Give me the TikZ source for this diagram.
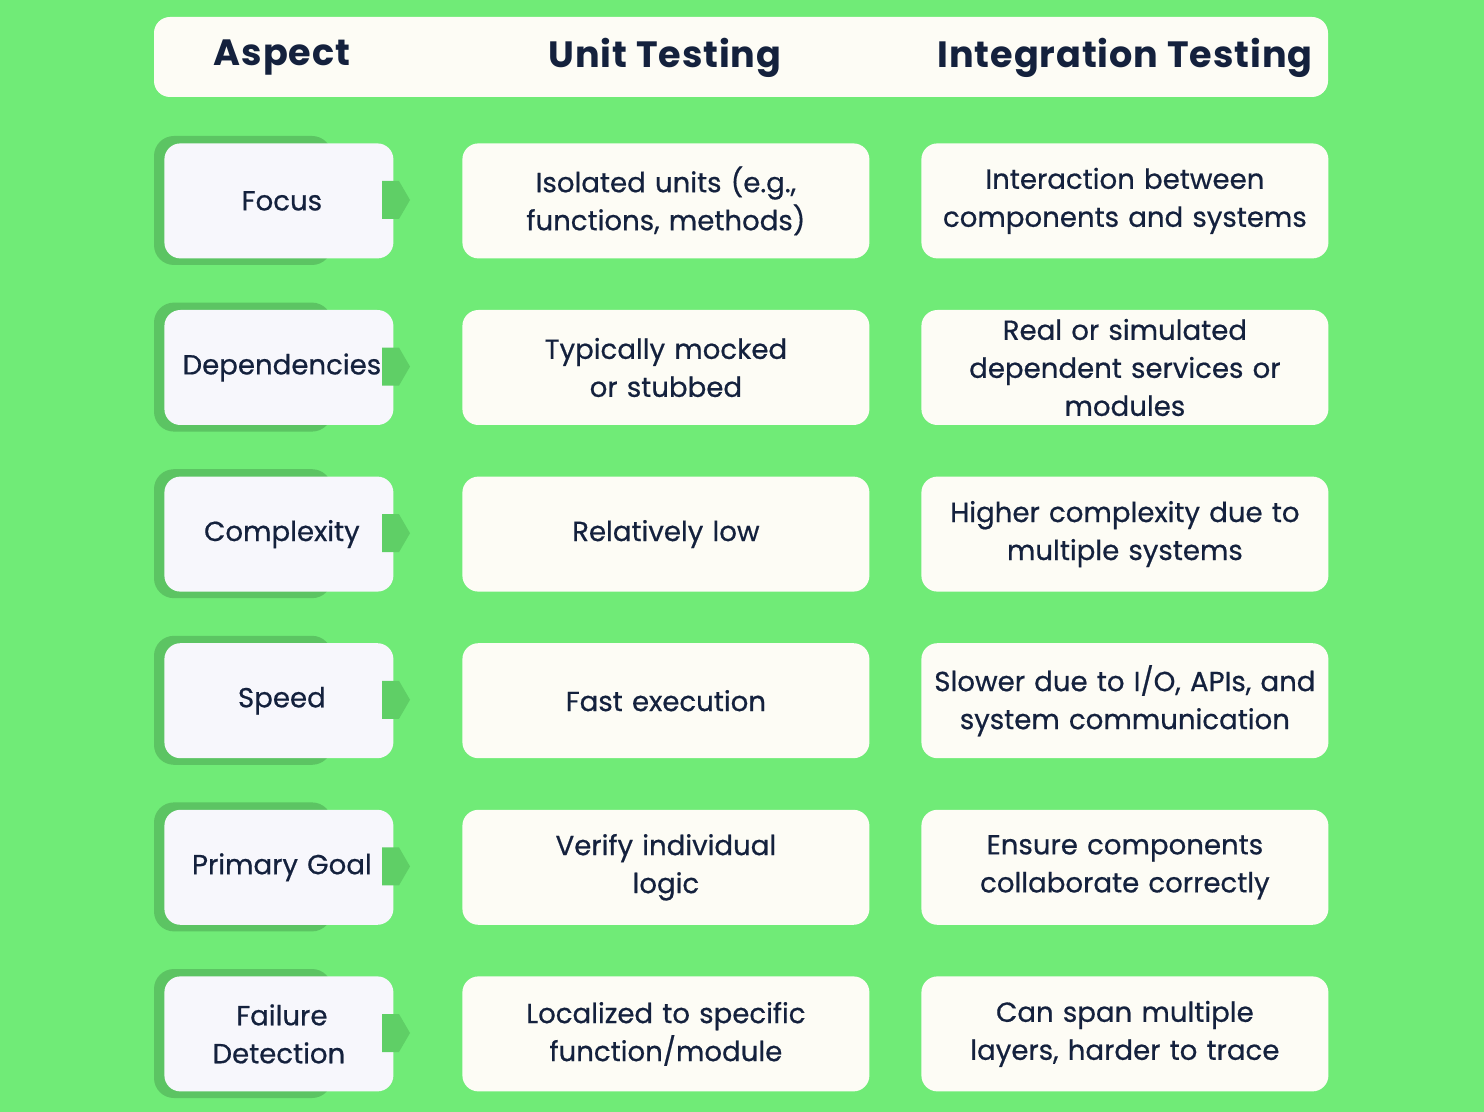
\documentclass[tikz,border=0pt]{standalone}
\usepackage{fontspec}
\setmainfont{Poppins}[FakeBold=0.6]
\newfontfamily\headfont{Poppins}[BoldFont={* Bold}, LetterSpace=2.5]
\definecolor{bggreen}{HTML}{70EB77}
\definecolor{shadowgreen}{HTML}{5CC463}
\definecolor{tabgreen}{HTML}{5FCF66}
\definecolor{cellwhite}{HTML}{FDFCF5}
\definecolor{aspectwhite}{HTML}{F7F7FC}
\definecolor{inktext}{HTML}{14213D}
\tikzset{
  cell/.style={fill=cellwhite, rounded corners=8pt, text=inktext, align=center,
    font=\fontsize{13.8}{19}\selectfont, anchor=north west,
    minimum width=203.5pt, minimum height=57.5pt, inner sep=0pt, text width=200pt},
  aspect/.style={cell, fill=aspectwhite, minimum width=114.5pt, text width=114.5pt},
  head/.style={font=\headfont\bfseries\fontsize{18.3}{22}\selectfont, text=inktext}
}
\begin{document}
\begin{tikzpicture}[x=0.5pt, y=-0.5pt]
\fill[bggreen] (0,0) rectangle (1484,1112);
\useasboundingbox (0,0) rectangle (1484,1112);
\fill[cellwhite, rounded corners=8pt] (154,17) rectangle (1328,97);
\node[head] (hasp) at (282,58) {Aspect};
\node[head] (hunit) at (665,58) {Unit Testing};
\node[head] (hint) at (1125,58) {Integration Testing};
\foreach \i/\asp/\unit/\integ in {
  0/Focus/{Isolated units (e.g.,\\functions, methods)}/{Interaction between\\components and systems},
  1/Dependencies/{Typically mocked\\or stubbed}/{Real or simulated\\dependent services or\\modules},
  2/Complexity/{Relatively low}/{Higher complexity due to\\multiple systems},
  3/Speed/{Fast execution}/{Slower due to I/O, APIs, and\\system communication},
  4/Primary Goal/{Verify individual\\logic}/{Ensure components\\collaborate correctly},
  5/{Failure\\Detection}/{Localized to specific\\function/module}/{Can span multiple\\layers, harder to trace}} {
  \pgfmathsetmacro{\top}{143+166.6*\i}
  \fill[shadowgreen, rounded corners=10pt] (154,\top-7) rectangle (332,\top+122);
  \node[aspect] (asp\i) at (164,\top) {\hspace*{3pt}\asp};
  \fill[tabgreen] (382,\top+38) -- (399,\top+38) -- (410,\top+57) -- (399,\top+76) -- (382,\top+76) -- cycle;
  \node[cell] (unit\i) at (462,\top) {\unit};
  \node[cell] (int\i) at (921,\top) {\integ};
}
\end{tikzpicture}
\end{document}
